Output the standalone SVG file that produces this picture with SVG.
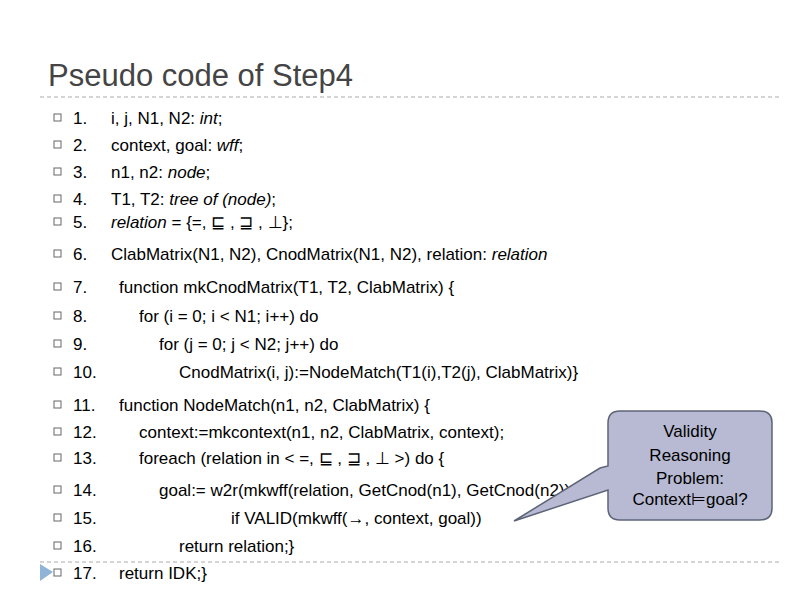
<svg xmlns="http://www.w3.org/2000/svg" width="800" height="600" viewBox="0 0 800 600">
<style>
text{font-family:"Liberation Sans",Arial,sans-serif;fill:#000}
.c{font-size:17px}
.b{fill:#fff;stroke:#666;stroke-width:1}
.d{stroke:#aaa;stroke-width:1;stroke-dasharray:4,3}
</style>
<rect width="800" height="600" fill="#fff"/>
<text x="48" y="86" font-size="31" style="fill:#444">Pseudo code of Step4</text>
<line class="d" x1="40" y1="97" x2="782" y2="97"/>
<line class="d" x1="40" y1="562" x2="782" y2="562"/>
<polygon points="40,564 53,572 40,581" fill="#8fb4d8"/>
<g id="bullets">
<rect class="b" x="54" y="114" width="7" height="7"/><rect class="b" x="54" y="141" width="7" height="7"/>
<rect class="b" x="54" y="168" width="7" height="7"/><rect class="b" x="54" y="195" width="7" height="7"/>
<rect class="b" x="54" y="218" width="7" height="7"/><rect class="b" x="54" y="250" width="7" height="7"/>
<rect class="b" x="54" y="283" width="7" height="7"/><rect class="b" x="54" y="312" width="7" height="7"/>
<rect class="b" x="54" y="340" width="7" height="7"/><rect class="b" x="54" y="368" width="7" height="7"/>
<rect class="b" x="54" y="401" width="7" height="7"/><rect class="b" x="54" y="428" width="7" height="7"/>
<rect class="b" x="54" y="454" width="7" height="7"/><rect class="b" x="54" y="486" width="7" height="7"/>
<rect class="b" x="54" y="514" width="7" height="7"/><rect class="b" x="54" y="542" width="7" height="7"/>
<rect class="b" x="54" y="569" width="7" height="7"/>
</g>
<g id="code" class="c" transform="translate(0,4)">
<text x="73" y="120">1.</text><text x="111" y="120">i, j, N1, N2: <tspan font-style="italic">int</tspan>;</text>
<text x="73" y="147">2.</text><text x="111" y="147">context, goal: <tspan font-style="italic">wff</tspan>;</text>
<text x="73" y="174">3.</text><text x="111" y="174">n1, n2: <tspan font-style="italic">node</tspan>;</text>
<text x="73" y="201">4.</text><text x="111" y="201">T1, T2: <tspan font-style="italic">tree of (node)</tspan>;</text>
<text x="73" y="224">5.</text><text x="111" y="224"><tspan font-style="italic">relation</tspan> = {=, ⊑ , ⊒ , ⊥};</text>
<text x="73" y="256">6.</text><text x="111" y="256">ClabMatrix(N1, N2), CnodMatrix(N1, N2), relation: <tspan font-style="italic">relation</tspan></text>
<text x="73" y="289">7.</text><text x="119" y="289">function mkCnodMatrix(T1, T2, ClabMatrix) {</text>
<text x="73" y="318">8.</text><text x="139" y="318">for (i = 0; i &lt; N1; i++) do</text>
<text x="73" y="346">9.</text><text x="159" y="346">for (j = 0; j &lt; N2; j++) do</text>
<text x="73" y="374">10.</text><text x="179" y="374">CnodMatrix(i, j):=NodeMatch(T1(i),T2(j), ClabMatrix)}</text>
<text x="73" y="407">11.</text><text x="119" y="407">function NodeMatch(n1, n2, ClabMatrix) {</text>
<text x="73" y="434">12.</text><text x="139" y="434">context:=mkcontext(n1, n2, ClabMatrix, context);</text>
<text x="73" y="460">13.</text><text x="139" y="460">foreach (relation in &lt; =, ⊑ , ⊒ , ⊥ &gt;) do {</text>
<text x="73" y="492">14.</text><text x="159" y="492">goal:= w2r(mkwff(relation, GetCnod(n1), GetCnod(n2));</text>
<text x="73" y="520">15.</text><text x="231" y="520">if VALID(mkwff(→, context, goal))</text>
<text x="73" y="548">16.</text><text x="179" y="548">return relation;}</text>
<text x="73" y="575">17.</text><text x="119" y="575">return IDK;}</text>
</g>
<g id="callout">
<path d="M620,411 H760 Q772,411 772,423 V508 Q772,520 760,520 H620 Q608,520 608,508 V490 L514,521 L600,468 L608,466 V423 Q608,411 620,411 Z" fill="#b7bad2" stroke="#5e6478" stroke-width="1.5"/>
<text x="690" y="437" font-size="17" text-anchor="middle">Validity</text>
<text x="690" y="461" font-size="17" text-anchor="middle">Reasoning</text>
<text x="690" y="484" font-size="17" text-anchor="middle">Problem:</text>
<text x="690" y="505" font-size="17" text-anchor="middle">Context⊨goal?</text>
</g>
</svg>
